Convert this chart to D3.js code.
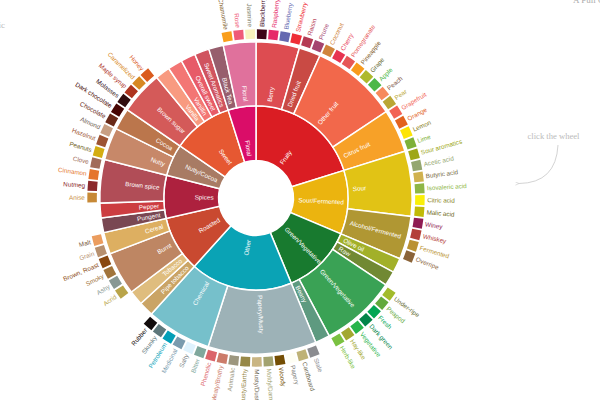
<!DOCTYPE html>
<html><head><meta charset="utf-8">
<script src="https://cdn.jsdelivr.net/npm/d3@7"></script>
<style>
body{margin:0;background:#fff;}
svg{display:block;font-family:"Liberation Sans",Arial,Helvetica,sans-serif;}
</style>
</head><body>
<svg id="chart" width="600" height="400"></svg>
<script>
// ---- data ----
const tier1Names  = ["Fruity","Sour/Fermented","Green/Vegetative","Other","Roasted","Spices","Nutty/Cocoa","Sweet","Floral"];
const tier1Colors = ["#da1d23","#ebb40f","#187a2f","#0aa3b5","#c94930","#ad213e","#a87b64","#e65832","#da0d68"];

const tier2Names   = ["Berry","Dried fruit","Other fruit","Citrus fruit","Sour","Alcohol/Fermented","Olive oil","Raw","Green/Vegetative","Beany","Papery/Musty","Chemical","Pipe tobacco","Tobacco","Burnt","Cereal","Pungent","Pepper","Brown spice","Nutty","Cocoa","Brown sugar","Vanilla","Vanillin","Overall sweet","Sweet Aromatics","Black Tea","Floral"];
const tier2Parents = ["Fruity","Fruity","Fruity","Fruity","Sour/Fermented","Sour/Fermented","Green/Vegetative","Green/Vegetative","Green/Vegetative","Green/Vegetative","Other","Other","Roasted","Roasted","Roasted","Roasted","Spices","Spices","Spices","Nutty/Cocoa","Nutty/Cocoa","Sweet","Sweet","Sweet","Sweet","Sweet","Floral","Floral"];
const tier2Colors  = ["#dd4c51","#c94a44","#f2684b","#f7a128","#e1c315","#b09733","#a2b029","#718933","#3aa255","#5e9a80","#9db2b7","#76c0cb","#caa465","#dfbd7e","#be8663","#ddaf61","#794752","#cc3d41","#b14d57","#c78869","#bb764c","#d45a59","#f89a80","#f37674","#e75b68","#d0545f","#975e6d","#e0719c"];
const tier2Values  = [0,0,0,0,0,0,3.8,3.8,0,3.8,0,0,3.8,3.8,0,0,3.8,3.8,0,0,0,0,3.8,3.8,3.8,3.8,3.8,0];

const leafNames = ["Blackberry","Raspberry","Blueberry","Strawberry","Raisin","Prune","Coconut","Cherry","Pomegranate","Pineapple","Grape","Apple","Peach","Pear","Grapefruit","Orange","Lemon","Lime",
  "Sour aromatics","Acetic acid","Butyric acid","Isovaleric acid","Citric acid","Malic acid","Winey","Whiskey","Fermented","Overripe",
  "Under-ripe","Peapod","Fresh","Dark green","Vegetative","Hay-like","Herb-like",
  "Stale","Cardboard","Papery","Woody","Moldy/Damp","Musty/Dusty","Musty/Earthy","Animalic","Meaty/Brothy","Phenolic","Bitter","Salty","Medicinal","Petroleum","Skunky","Rubber",
  "Acrid","Ashy","Smoky","Brown, Roast","Grain","Malt",
  "Anise","Nutmeg","Cinnamon","Clove",
  "Peanuts","Hazelnut","Almond","Chocolate","Dark chocolate",
  "Molasses","Maple syrup","Caramelized","Honey",
  "Chamomile","Rose","Jasmine"];
const leafParents = ["Berry","Berry","Berry","Berry","Dried fruit","Dried fruit","Other fruit","Other fruit","Other fruit","Other fruit","Other fruit","Other fruit","Other fruit","Other fruit","Citrus fruit","Citrus fruit","Citrus fruit","Citrus fruit",
  "Sour","Sour","Sour","Sour","Sour","Sour","Alcohol/Fermented","Alcohol/Fermented","Alcohol/Fermented","Alcohol/Fermented",
  "Green/Vegetative","Green/Vegetative","Green/Vegetative","Green/Vegetative","Green/Vegetative","Green/Vegetative","Green/Vegetative",
  "Papery/Musty","Papery/Musty","Papery/Musty","Papery/Musty","Papery/Musty","Papery/Musty","Papery/Musty","Papery/Musty","Papery/Musty","Papery/Musty","Chemical","Chemical","Chemical","Chemical","Chemical","Chemical",
  "Burnt","Burnt","Burnt","Burnt","Cereal","Cereal",
  "Brown spice","Brown spice","Brown spice","Brown spice",
  "Nutty","Nutty","Nutty","Cocoa","Cocoa",
  "Brown sugar","Brown sugar","Brown sugar","Brown sugar",
  "Floral","Floral","Floral"];
const leafColors = ["#3e0317","#e62969","#6569b0","#ef2d36","#b53b54","#a5446f","#d0843c","#e73451","#e65656","#f89a1c","#aeb92c","#4eb849","#f68a5c","#baa635","#f26355","#e2631e","#fde404","#7eb138",
  "#9ea718","#94a76f","#d0b24f","#8eb646","#faef07","#c1ba07","#8f1c53","#b34039","#ba9232","#8b6439",
  "#a2bb2b","#62aa3c","#03a653","#038549","#28b44b","#a3a830","#7ac141",
  "#8b8c90","#beb276","#fefef4","#744e03","#a3a36f","#c9b583","#978847","#9d977f","#cc7b6a","#db646a","#80a89d","#def2fd","#7a9bae","#039fb8","#5e777b","#120c0c",
  "#b9a449","#899893","#a1743b","#894810","#b7906f","#eb9d5f",
  "#c78936","#8c292c","#e5762e","#a16c5a",
  "#d4ad12","#9d5433","#c89f83","#692a19","#470604",
  "#310d0f","#ae341f","#d78823","#da5c1f",
  "#f99e1c","#ef5a78","#f7f1bd"];
const leafValues = [2.8,2.8,2.8,2.8,2.8,2.8,2.8,2.8,2.8,2.8,2.8,2.8,2.8,2.8,2.8,2.8,2.8,2.8,
  2.8,2.8,2.8,2.8,2.8,2.8,2.8,2.8,2.8,2.8,
  2.8,2.8,2.8,2.8,2.8,2.8,2.8,
  2.8,2.8,2.8,2.8,2.8,2.8,2.8,2.8,2.8,2.8,2.8,2.8,2.8,2.8,2.8,2.8,
  2.8,2.8,2.8,2.8,2.8,2.8,
  2.8,2.8,2.8,2.8,
  2.8,2.8,2.8,2.8,2.8,
  2.8,2.8,2.8,2.8,
  2.8,2.8,2.8];

// ---- build hierarchy ----
const rows = [{id:"root", parent:null, name:"", value:0}];
tier1Names.forEach((n,i)=>rows.push({id:"1:"+n, parent:"root", name:n, color:tier1Colors[i], value:0}));
tier2Names.forEach((n,i)=>rows.push({id:"2:"+n, parent:"1:"+tier2Parents[i], name:n, color:tier2Colors[i], value:tier2Values[i]}));
leafNames.forEach((n,i)=>rows.push({id:"3:"+n, parent:"2:"+leafParents[i], name:n, color:leafColors[i], value:leafValues[i]}));

const root = d3.stratify().id(d=>d.id).parentId(d=>d.parent)(rows).sum(d=>d.value||0);
d3.partition().size([2*Math.PI, 1])(root);

const svg = d3.select("#chart");
const cx = 256, cy = 198;
const R = 227;
const yr = d3.scalePow().exponent(1.3).domain([0,1]).range([0,R]);

const g = svg.append("g").attr("transform",`translate(${cx},${cy})`);

const ringArc = d3.arc()
  .startAngle(d=>d.x0).endAngle(d=>d.x1)
  .innerRadius(d=>yr(d.y0)).outerRadius(d=>yr(d.y1));
const boxArc = d3.arc()
  .startAngle(d=>d.x0).endAngle(d=>d.x1)
  .innerRadius(d=>yr(d.y0)+3).outerRadius(d=>yr(d.y0)+12.5)
  .padAngle(0.008);

const nodes = root.descendants().filter(d=>d.depth>0);
const ringNodes = nodes.filter(d=>d.depth<3);
const leafNodes = nodes.filter(d=>d.depth===3);

g.selectAll("path.ring").data(ringNodes).join("path")
  .attr("class","ring")
  .attr("d", ringArc)
  .attr("fill", d=>d.data.color)
  .attr("stroke","#fff").attr("stroke-width",1.5);

g.selectAll("path.box").data(leafNodes).join("path")
  .attr("class","box")
  .attr("d", boxArc)
  .attr("fill", d=>d.data.color);

function placeText(sel, rad){
  sel.attr("transform", d=>{
      const angle = (d.x0+d.x1)/2*180/Math.PI - 90;
      return `rotate(${angle}) translate(${rad(d)}) rotate(${angle>90?180:0})`;
    })
    .attr("text-anchor", d=>(((d.x0+d.x1)/2*180/Math.PI - 90) > 90) ? "end" : "start")
    .attr("dy","0.35em");
}

g.selectAll("text.in").data(ringNodes).join("text")
  .attr("class","in")
  .attr("font-size","6.3px")
  .attr("fill","#fff")
  .text(d=>d.data.name)
  .call(placeText, d=>yr(d.y0)+5);

function brightness(c){ const r=d3.rgb(c); return (r.r*299+r.g*587+r.b*114)/1000; }
g.selectAll("text.out").data(leafNodes).join("text")
  .attr("class","out")
  .attr("font-size","6.3px")
  .attr("fill", d=> brightness(d.data.color) > 161 ? d3.interpolateRgb(d.data.color,"#333")(0.6) : d.data.color)
  .text(d=>d.data.name)
  .call(placeText, d=>yr(d.y0)+15);

// ---- annotations ----
const defs = svg.append("defs");
defs.append("marker").attr("id","ah").attr("viewBox","0 0 10 10").attr("refX",1).attr("refY",5)
  .attr("markerWidth",5).attr("markerHeight",5).attr("orient","auto-start-reverse")
  .append("path").attr("d","M10,1 L1,5 L10,9").attr("fill","none").attr("stroke","#bbb").attr("stroke-width",1.2);

svg.append("text").attr("x",553.5).attr("y",139).attr("text-anchor","middle")
  .attr("font-family","'Liberation Serif','DejaVu Serif',serif").attr("font-size","8.6px").attr("fill","#bbb")
  .text("click the wheel");
svg.append("path").attr("d","M558,145 Q556,183 519,183.5").attr("fill","none")
  .attr("stroke","#c8c8c8").attr("stroke-width",0.8).attr("marker-end","url(#ah)");

svg.append("text").attr("x",573).attr("y",3).attr("font-family","'Liberation Serif',serif")
  .attr("font-size","9px").attr("fill","#aaa").text("A Full Cup");
svg.append("text").attr("x",5).attr("y",28).attr("text-anchor","end").attr("font-family","'Liberation Serif',serif")
  .attr("font-size","9px").attr("fill","#bbb").text("ic");
</script>
</body></html>
